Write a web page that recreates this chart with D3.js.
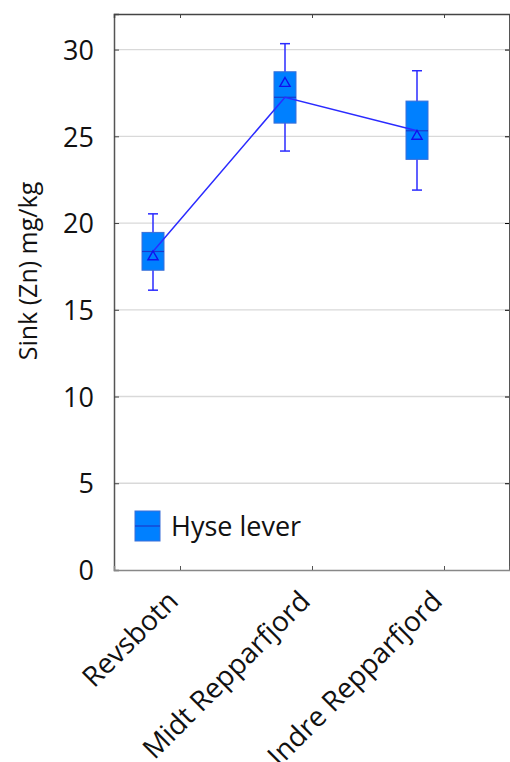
<!DOCTYPE html>
<html><head><meta charset="utf-8">
<script src="https://cdn.jsdelivr.net/npm/d3@7"></script>
<style>body{margin:0;background:#fff}svg{display:block}text{font-family:"Open Sans",sans-serif;fill:#111}</style>
</head><body>
<script>
const categories = ["Revsbotn", "Midt Repparfjord", "Indre Repparfjord"];
const whiskerLow  = [16.13, 24.15, 21.9];
const boxLow      = [17.28, 25.76, 23.67];
const medians     = [18.36, 27.25, 25.32];
const boxHigh     = [19.46, 28.72, 27.03];
const whiskerHigh = [20.53, 30.34, 28.78];
const means       = [18.05, 28.05, 25.0];
const yTicks = [0, 5, 10, 15, 20, 25, 30];
const seriesName = "Hyse lever";
const yLabel = "Sink (Zn) mg/kg";

const W = 510, H = 762;
const m = {left:114, top:14, right:510, bottom:570};
const svg = d3.select("body").append("svg").attr("width", W).attr("height", H);

const x = d3.scalePoint().domain(categories).range([m.left, m.right]).padding(0.5);
const y = d3.scaleLinear().domain([0, 32.05]).range([m.bottom, m.top]);
const boxOffset = -27, boxW = 22, capW = 10;
const blue = "#0080ff", dark = "#2b2bff";

// grid
svg.append("g").selectAll("line").data(yTicks.filter(d=>d>0)).join("line")
  .attr("x1", m.left).attr("x2", m.right).attr("y1", d=>y(d)).attr("y2", d=>y(d))
  .attr("stroke", "#d9d9d9").attr("stroke-width", 1.3);

// axes (inside ticks)
const gl = svg.append("g").attr("transform", `translate(${m.left},0)`)
  .call(d3.axisLeft(y).tickValues(yTicks).tickSize(-5).tickPadding(20).tickFormat(d3.format("d")));
gl.select(".domain").attr("stroke", "#555").attr("stroke-width", 1.5);
gl.selectAll(".tick line").attr("stroke", "#444");
gl.selectAll(".tick text").style("font-size", "27px").attr("dy", "0.36em");

const gr = svg.append("g").attr("transform", `translate(${m.right-1},0)`)
  .call(d3.axisRight(y).tickValues(yTicks).tickSize(-4).tickFormat(""));
gr.select(".domain").attr("stroke", "#555");

const gt = svg.append("g").attr("transform", `translate(0,${m.top})`)
  .call(d3.axisTop(x).tickSize(-4).tickFormat(""));
gt.select(".domain").attr("stroke", "#444").attr("stroke-width", 1.5);
gt.selectAll(".tick line").attr("stroke", "#444");

const gb = svg.append("g").attr("transform", `translate(0,${m.bottom})`)
  .call(d3.axisBottom(x).tickSize(-4).tickPadding(0).tickFormat(""));
gb.select(".domain").attr("stroke", "#888").attr("stroke-width", 1.5);
gb.selectAll(".tick line").attr("stroke", "#555");

// x labels
svg.append("g").selectAll("text").data(categories).join("text")
  .attr("transform", d => `translate(${x(d)-7},${m.bottom+26}) rotate(-45)`)
  .attr("text-anchor", "end").attr("dy", "0.35em")
  .style("font-size", "28px").text(d=>d);

// y label
svg.append("text").attr("transform", `translate(37,271) rotate(-90)`)
  .attr("text-anchor", "middle").style("font-size", "25px").text(yLabel);

const cx = i => x(categories[i]) + boxOffset;
const idx = d3.range(categories.length);

// whiskers
const g = svg.append("g");
g.selectAll(".wl").data(idx).join("line")
  .attr("x1", cx).attr("x2", cx).attr("y1", i=>y(whiskerLow[i])).attr("y2", i=>y(whiskerHigh[i]))
  .attr("stroke", dark).attr("stroke-width", 1.5);
g.selectAll(".cap1").data(idx).join("line")
  .attr("x1", i=>cx(i)-capW/2).attr("x2", i=>cx(i)+capW/2).attr("y1", i=>y(whiskerLow[i])).attr("y2", i=>y(whiskerLow[i]))
  .attr("stroke", dark).attr("stroke-width", 1.5);
g.selectAll(".cap2").data(idx).join("line")
  .attr("x1", i=>cx(i)-capW/2).attr("x2", i=>cx(i)+capW/2).attr("y1", i=>y(whiskerHigh[i])).attr("y2", i=>y(whiskerHigh[i]))
  .attr("stroke", dark).attr("stroke-width", 1.5);
// boxes
g.selectAll("rect").data(idx).join("rect")
  .attr("x", i=>cx(i)-boxW/2).attr("width", boxW)
  .attr("y", i=>y(boxHigh[i])).attr("height", i=>y(boxLow[i])-y(boxHigh[i]))
  .attr("fill", blue).attr("stroke", "#3a6fd8").attr("stroke-width", 1);
// medians
g.selectAll(".med").data(idx).join("line")
  .attr("x1", i=>cx(i)-boxW/2).attr("x2", i=>cx(i)+boxW/2).attr("y1", i=>y(medians[i])).attr("y2", i=>y(medians[i]))
  .attr("stroke", "#1a3acc").attr("stroke-width", 1.2);
// connecting line
g.append("path").datum(idx)
  .attr("d", d3.line().x(cx).y(i=>y(medians[i])))
  .attr("fill", "none").attr("stroke", dark).attr("stroke-width", 1.5);
// mean triangles
const tri = d3.symbol().type(d3.symbolTriangle).size(45);
g.selectAll(".mean").data(idx).join("path")
  .attr("transform", i=>`translate(${cx(i)},${y(means[i])})`)
  .attr("d", tri).attr("fill", "none").attr("stroke", "#1010ee").attr("stroke-width", 1.4);

// legend
const lg = svg.append("g");
lg.append("rect").attr("x", 135).attr("y", 511).attr("width", 25).attr("height", 30)
  .attr("fill", blue).attr("stroke", "#3a6fd8");
lg.append("line").attr("x1", 135).attr("x2", 160).attr("y1", 526).attr("y2", 526).attr("stroke", "#1a3acc").attr("stroke-width", 1.2);
lg.append("text").attr("x", 171).attr("y", 536).style("font-size", "27px").text(seriesName);
</script>
</body></html>
